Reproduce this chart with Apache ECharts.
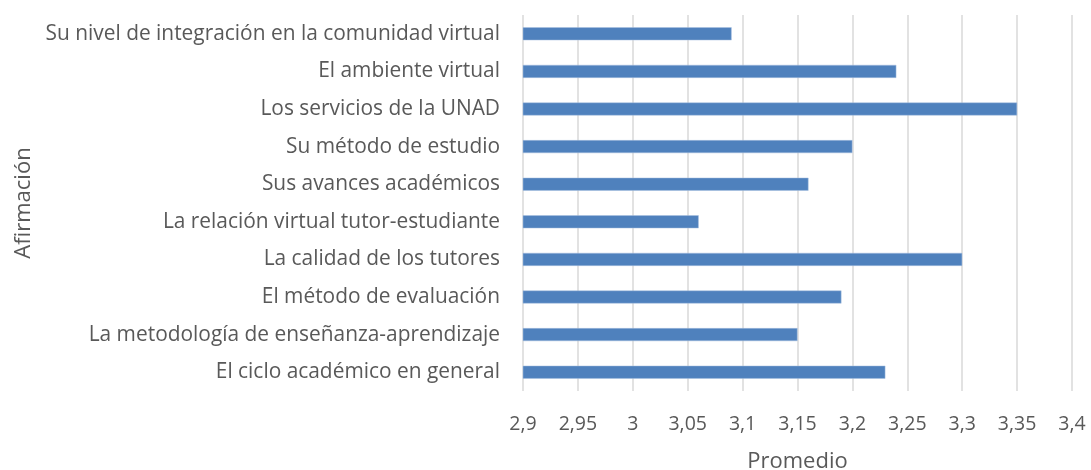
<!DOCTYPE html>
<html>
<head>
<meta charset="utf-8">
<script src="https://cdn.jsdelivr.net/npm/echarts@6/dist/echarts.min.js"></script>
<style>
  html, body { margin: 0; padding: 0; background: #fff; }
  #chart { width: 1091px; height: 470px; }
</style>
</head>
<body>
<div id="chart"></div>
<script>
// afirmaciones, de arriba hacia abajo
const afirmaciones = [
  'Su nivel de integración en la comunidad virtual',
  'El ambiente virtual',
  'Los servicios de la UNAD',
  'Su método de estudio',
  'Sus avances académicos',
  'La relación virtual tutor-estudiante',
  'La calidad de los tutores',
  'El método de evaluación',
  'La metodología de enseñanza-aprendizaje',
  'El ciclo académico en general'
];
const promedios = [3.09, 3.24, 3.35, 3.2, 3.16, 3.06, 3.3, 3.19, 3.15, 3.23];

const FONT = 'Open Sans';
const GRIS = '#595959';

let myChart = echarts.init(document.getElementById('chart'));

myChart.setOption({
  animation: false,
  grid: { left: 523, right: 19, top: 15, height: 376, outerBoundsMode: 'none' },
  xAxis: {
    type: 'value',
    min: 2.9,
    max: 3.4,
    interval: 0.05,
    name: 'Promedio',
    nameLocation: 'middle',
    nameGap: 60,
    nameTextStyle: { color: GRIS, fontFamily: FONT, fontSize: 22 },
    axisLine: { show: false },
    axisTick: { show: false },
    axisLabel: {
      color: GRIS, fontFamily: FONT, fontSize: 19.5, margin: 23,
      formatter: v => String(+v.toFixed(2)).replace('.', ',')
    },
    splitLine: { show: true, lineStyle: { color: '#d9d9d9', width: 1.5 } }
  },
  yAxis: {
    type: 'category',
    inverse: true,
    data: afirmaciones,
    name: 'Afirmación',
    nameLocation: 'middle',
    nameGap: 488,
    nameRotate: 90,
    nameTextStyle: { color: GRIS, fontFamily: FONT, fontSize: 22 },
    axisLine: { show: false },
    axisTick: { show: false },
    axisLabel: { color: GRIS, fontFamily: FONT, fontSize: 20.9, margin: 23 }
  },
  series: [{
    type: 'bar',
    data: promedios,
    barWidth: 13,
    itemStyle: { color: '#4f81bd', borderColor: '#a9c1e0', borderWidth: 0.5 }
  }]
});

window.onresize = function () {
  myChart.resize();
};
</script>
</body>
</html>
